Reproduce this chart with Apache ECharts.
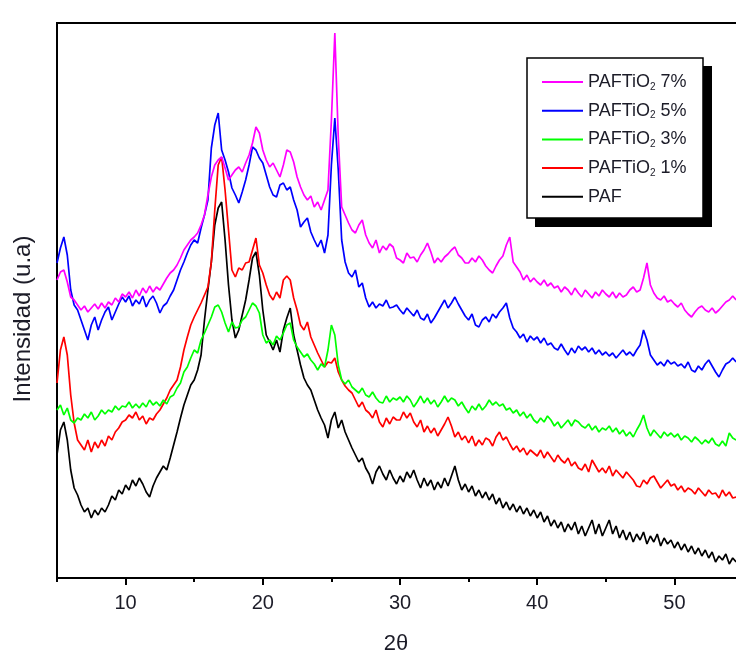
<!DOCTYPE html>
<html>
<head>
<meta charset="utf-8">
<script src="https://cdn.jsdelivr.net/npm/echarts@6/dist/echarts.min.js"></script>
<style>
  html, body { margin: 0; padding: 0; background: #fff; }
  #chart { width: 736px; height: 651px; }
</style>
</head>
<body>
<div id="chart"></div>
<script>
// XRD scan: 2θ from 5° in 0.25° steps; one row = 5°.
const scanStart = 5;
const scanStep = 0.25;

// Intensity (u.a.), offset curves as plotted
const paf = [
  123,148,156,138,108,90,83,73,66,70,60,68,63,70,66,73,82,78,88,84,
  93,88,98,92,100,94,86,81,92,100,106,112,108,120,133,146,160,173,183,193,
  198,208,223,258,288,316,353,370,376,338,293,258,240,248,263,278,298,320,326,303,
  268,243,236,228,238,226,248,260,270,243,228,213,200,193,188,178,168,160,153,140,
  158,166,150,158,146,138,130,123,116,120,110,104,94,106,112,104,98,108,100,94,
  102,96,106,100,108,98,90,100,92,98,88,96,90,100,92,102,112,98,88,94,
  86,92,82,88,80,86,78,84,74,80,70,76,68,74,66,72,64,70,62,68,
  60,66,56,62,52,58,50,56,46,54,48,56,44,52,42,50,58,44,54,42,
  50,58,44,52,40,48,38,46,36,44,38,46,34,42,36,44,32,40,34,38,
  30,36,28,34,26,32,24,30,22,28,20,26,16,22,18,24,14,20,16
];
const tio1 = [
  195,228,241,223,183,155,138,133,128,138,126,136,130,138,132,142,138,146,150,156,
  158,163,160,166,158,162,154,160,158,164,168,174,180,188,193,198,211,228,241,253,
  261,268,275,283,291,316,368,413,421,388,348,308,301,310,308,315,316,328,340,313,
  305,293,283,278,286,280,298,302,298,280,268,253,248,256,241,233,225,218,211,216,
  215,220,206,198,192,188,185,178,171,176,168,165,160,168,156,151,160,154,161,158,
  158,166,160,165,156,151,158,146,152,145,150,142,148,154,161,152,141,146,138,142,
  135,142,132,138,133,140,138,132,141,146,138,141,134,128,132,126,130,123,128,125,
  122,128,120,126,121,116,123,118,115,120,112,116,110,108,114,106,118,112,106,110,
  105,112,102,108,104,100,106,102,98,92,91,98,94,100,102,96,90,94,98,92,
  94,88,92,86,90,88,84,90,86,82,88,84,85,80,88,82,86,80,81
];
const tio3 = [
  168,173,163,170,158,155,160,158,164,160,166,158,162,168,164,168,166,172,168,172,
  171,176,170,174,170,175,171,178,173,176,172,178,174,181,183,190,195,206,211,220,
  228,225,238,245,253,261,271,273,266,255,246,256,250,251,258,261,268,275,272,265,
  243,235,238,233,242,238,245,253,255,238,231,226,221,224,218,214,208,214,211,228,
  253,243,213,198,194,198,191,188,185,190,183,181,186,180,176,175,182,176,180,178,
  181,176,182,178,171,176,182,175,180,174,178,171,176,182,176,180,178,172,176,170,
  165,172,168,174,168,172,178,173,176,172,174,168,170,165,168,162,166,160,164,158,
  155,160,156,162,158,152,156,150,154,158,152,158,156,152,150,154,148,152,146,150,
  148,152,146,150,144,148,142,146,141,148,154,163,150,142,148,144,140,146,142,145,
  141,144,138,142,140,136,141,138,134,138,135,140,134,132,137,132,145,140,138
];
const tio5 = [
  315,330,341,323,288,273,268,258,248,238,253,261,248,258,266,271,258,266,274,281,
  276,282,272,278,274,282,271,278,282,275,265,272,275,282,288,298,308,316,325,333,
  338,335,350,363,378,430,453,465,428,418,406,390,383,375,386,398,413,431,428,420,
  415,403,391,383,381,393,395,388,391,378,368,351,356,360,346,338,331,338,325,343,
  413,460,408,338,316,305,301,308,291,295,280,271,276,270,274,272,278,270,271,273,
  268,264,270,266,262,268,260,258,264,255,260,266,272,278,270,275,281,274,268,262,
  258,264,253,251,258,261,256,264,260,266,270,275,260,250,246,240,244,236,242,238,
  241,235,240,233,235,230,228,234,228,223,230,225,232,228,231,226,230,224,228,223,
  226,222,225,220,224,228,223,226,222,228,233,248,238,223,218,213,216,212,218,214,
  216,212,214,210,216,208,206,212,208,214,218,212,206,201,208,214,216,220,216
];
const tio7 = [
  298,306,308,296,281,278,273,268,272,266,270,274,269,275,270,276,273,280,276,284,
  281,286,280,288,282,290,285,292,286,291,288,294,300,305,308,313,320,328,333,338,
  341,345,353,363,383,401,413,418,421,410,398,403,408,411,406,415,423,435,451,445,
  428,418,411,415,408,401,413,428,426,416,401,391,383,378,382,371,376,368,378,388,
  458,545,441,371,363,355,348,345,353,358,343,335,330,338,325,332,328,334,331,320,
  318,315,325,320,321,316,323,328,335,326,315,320,316,321,324,328,331,323,320,315,
  315,320,316,322,318,312,308,305,312,318,322,333,341,316,311,306,298,303,296,300,
  296,293,298,292,295,290,292,286,291,288,283,290,285,281,288,284,280,286,282,288,
  284,281,286,280,285,281,283,288,291,286,288,300,315,293,285,280,278,282,276,278,
  274,271,275,268,264,261,266,270,272,268,266,270,265,268,272,276,278,282,278
];

const seriesNames = ['PAFTiO2 7%', 'PAFTiO2 5%', 'PAFTiO2 3%', 'PAFTiO2 1%', 'PAF'];
const seriesValues = [tio7, tio5, tio3, tio1, paf];
const seriesColors = ['#ff00ff', '#0000ff', '#00ff00', '#ff0000', '#000000'];
const majorTicks = [10, 20, 30, 40, 50];
const minorTicks = [5, 15, 25, 35, 45];

function toPairs(values) {
  return values.map((v, i) => [scanStart + i * scanStep, v]);
}

const chart = echarts.init(document.getElementById('chart'), null, { renderer: 'canvas' });

const textColor = '#1c1c28';
const font = 'Liberation Sans, Arial, sans-serif';

chart.setOption({
  animation: false,
  backgroundColor: '#fff',
  grid: {
    left: 57, top: 23, bottom: 73, right: -7,
    outerBoundsMode: 'none',
    show: true, borderColor: '#000', borderWidth: 2, backgroundColor: 'transparent'
  },
  xAxis: [{
    type: 'value', min: 5, max: 55,
    name: '2θ', nameLocation: 'middle', nameGap: 55,
    nameTextStyle: { fontSize: 22, color: textColor, fontFamily: font, padding: [0, 8, 0, 0] },
    axisLine: { lineStyle: { color: '#000', width: 2 } },
    axisTick: { customValues: majorTicks, length: 7, lineStyle: { color: '#000', width: 2 } },
    axisLabel: { customValues: majorTicks, margin: 15, fontSize: 20, color: textColor, fontFamily: font },
    splitLine: { show: false }
  }, {
    type: 'value', min: 5, max: 55, position: 'bottom',
    axisLine: { show: false },
    axisTick: { customValues: minorTicks, length: 4, lineStyle: { color: '#000', width: 2 } },
    axisLabel: { show: false },
    splitLine: { show: false }
  }],
  yAxis: {
    type: 'value', min: 0, max: 555,
    axisLine: { show: true, lineStyle: { color: '#000', width: 2 } },
    axisTick: { show: false },
    axisLabel: { show: false },
    splitLine: { show: false }
  },
  legend: {
    data: seriesNames,
    orient: 'vertical',
    left: 542, top: 73, padding: 0,
    icon: 'rect',
    itemWidth: 41, itemHeight: 2, itemGap: 9.7,
    formatter: function (name) {
      return name.replace('TiO2', 'TiO{s|2}');
    },
    textStyle: {
      fontSize: 18, color: textColor, fontFamily: font,
      rich: { s: { fontSize: 10, color: textColor, fontFamily: font, padding: [10, 0, 0, 0] } }
    },
    z: 10
  },
  graphic: [
    { type: 'rect', z: 5, shape: { x: 535, y: 66, width: 177, height: 161 }, style: { fill: '#000' } },
    { type: 'rect', z: 6, shape: { x: 527, y: 58, width: 176, height: 160 }, style: { fill: '#fff', stroke: '#000', lineWidth: 1.5 } },
    {
      type: 'text', z: 6, x: 23, y: 319, rotation: Math.PI / 2,
      style: { text: 'Intensidad (u.a)', fontSize: 24, fill: textColor, fontFamily: font, align: 'center', verticalAlign: 'middle' }
    }
  ],
  series: seriesValues.map((vals, k) => ({
    name: seriesNames[k],
    type: 'line',
    xAxisIndex: 0,
    data: toPairs(vals),
    symbol: 'none',
    color: seriesColors[k],
    lineStyle: { width: 1.7, color: seriesColors[k] },
    itemStyle: { color: seriesColors[k] },
    z: 2 + (seriesValues.length - k)
  }))
});
</script>
</body>
</html>
